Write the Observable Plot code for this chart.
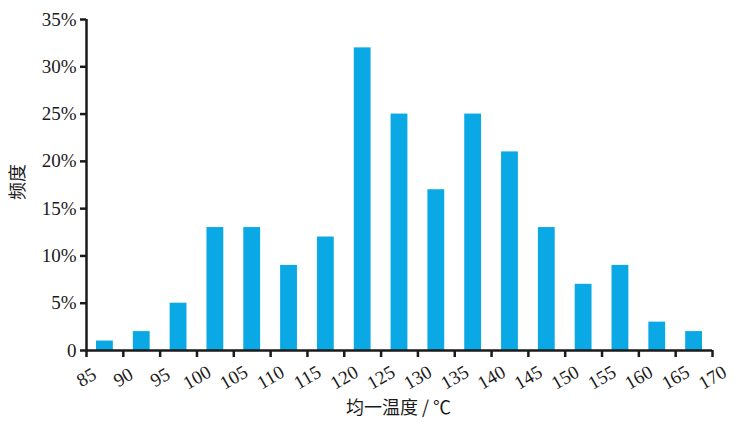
<!DOCTYPE html>
<html><head><meta charset="utf-8">
<script src="https://cdn.jsdelivr.net/npm/d3@7"></script>
<script src="https://cdn.jsdelivr.net/npm/@observablehq/plot@0.6"></script>
<style>
body{margin:0;background:#fff;}
svg{font-family:"Liberation Serif","Noto Sans CJK SC",serif;}
</style></head>
<body><div id="chart"></div>
<script>
const binStarts = [85,90,95,100,105,110,115,120,125,130,135,140,145,150,155,160,165];
const freqs = [1,2,5,13,13,9,12,32,25,17,25,21,13,7,9,3,2];
const xTicks = [85,90,95,100,105,110,115,120,125,130,135,140,145,150,155,160,165,170];
const yTicks = [0,5,10,15,20,25,30,35];
const xLabel = "均一温度 / ℃";
const yLabel = "频度";

const data = binStarts.map((s,i)=>({lo:s, hi:s+5, v:freqs[i]}));
const black = "#1a1a1a";
const chart = Plot.plot({
  width:741, height:432,
  marginLeft:86, marginRight:29, marginTop:19, marginBottom:82,
  style:{fontFamily:'"Liberation Serif","Noto Sans CJK SC",serif', fontSize:"19px", color:black, background:"#fff"},
  x:{domain:[85,170]},
  y:{domain:[0,35]},
  marks:[
    Plot.rectY(data,{x1:"lo",x2:"hi",y:"v",fill:"#0aa9e6",insetLeft:10,insetRight:10}),
    Plot.ruleY([0],{stroke:black,strokeWidth:2.5}),
    Plot.ruleX([85],{stroke:black,strokeWidth:2.5}),
    Plot.axisY({ticks:yTicks,tickSize:6,tickPadding:4,strokeWidth:2.5,stroke:black,fill:black,
      tickFormat:d=>d===0?"0":d+"%",fontSize:19,label:null}),
    Plot.axisX({ticks:xTicks,tickSize:7,strokeWidth:2.5,stroke:black,text:null,label:null}),
    Plot.text(xTicks,{x:d=>d,frameAnchor:"bottom",dy:27,rotate:-30,textAnchor:"middle",lineAnchor:"middle",
      fontSize:19,fill:black,text:d=>String(d)}),
    Plot.text([xLabel],{frameAnchor:"bottom",dy:63,fontSize:18,fill:black,dx:-1,
      fontFamily:'"Noto Sans CJK SC","Liberation Serif",sans-serif'}),
    Plot.text([yLabel],{frameAnchor:"left",dx:-68,dy:15,rotate:-90,fontSize:18,fill:black,
      fontFamily:'"Noto Sans CJK SC",sans-serif'})
  ]
});
document.getElementById("chart").append(chart);
</script></body></html>
